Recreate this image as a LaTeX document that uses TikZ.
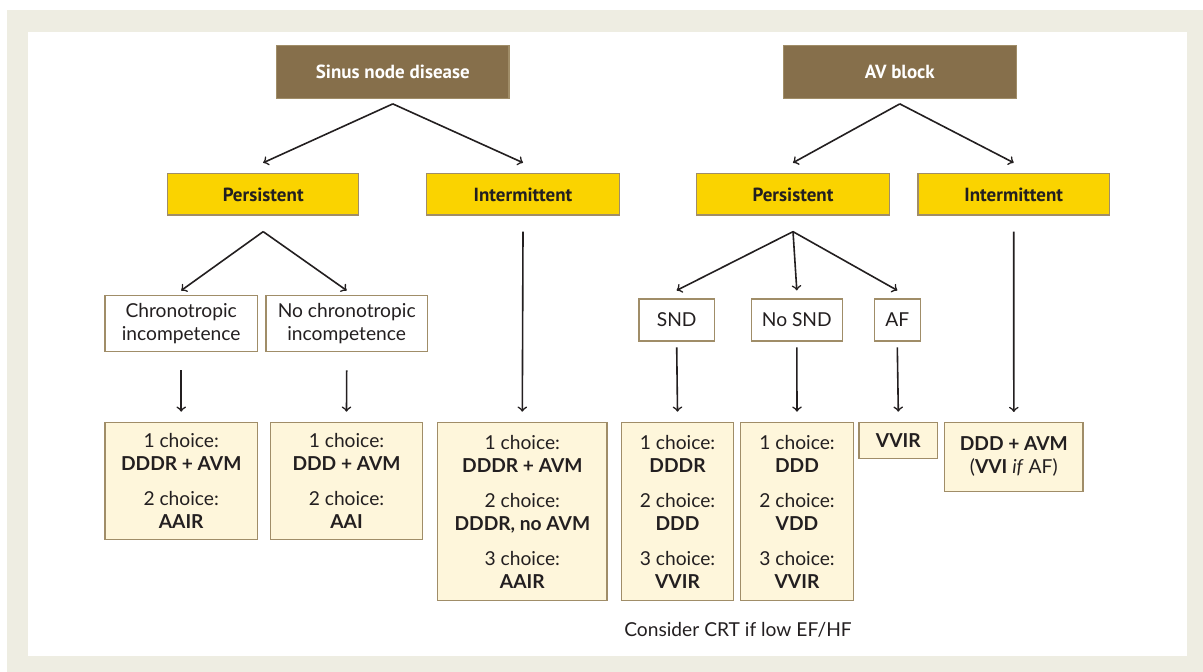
\documentclass[tikz,border=0pt]{standalone}
\usepackage{fontspec}
\setmainfont{Lato}
\newfontfamily\headfont{PT Sans}
\usetikzlibrary{shapes.geometric, arrows, positioning}

\definecolor{framebeige}{HTML}{EEEDE2}
\definecolor{diseasebrown}{HTML}{866F4B}
\definecolor{courseyellow}{HTML}{FAD300}
\definecolor{choicecream}{HTML}{FEF6DB}
\definecolor{boxline}{HTML}{A08D68}
\definecolor{darktext}{HTML}{231F20}

\tikzstyle{disease} = [rectangle, minimum height=26.3pt, align=center, draw=boxline, line width=0.6pt, fill=diseasebrown, text=white, font=\headfont\fontsize{9.5}{11}\selectfont\bfseries]
\tikzstyle{course} = [rectangle, minimum height=20.65pt, align=center, draw=boxline, line width=0.6pt, fill=courseyellow, text=darktext, font=\headfont\fontsize{9.5}{11}\selectfont\bfseries]
\tikzstyle{finding} = [rectangle, inner sep=2pt, align=center, draw=boxline, line width=0.6pt, fill=white, text=darktext, font=\fontsize{9.6}{11.5}\selectfont]
\tikzstyle{choice} = [rectangle, anchor=north, inner sep=2pt, align=center, draw=boxline, line width=0.6pt, fill=choicecream, text=darktext, font=\fontsize{9.6}{11.5}\selectfont]
\tikzstyle{arrow} = [line width=0.8pt, draw=darktext, ->, >=to]

\begin{document}
\begin{tikzpicture}[x=0.5pt, y=-0.5pt]
% frame
\useasboundingbox (0,0) rectangle (1203,672);
\fill[framebeige] (7,10) rectangle (1203,672);
\fill[white] (28,32) rectangle (1187,656);

% sinus node disease branch
\node (sinus) [disease, minimum width=116.2pt] at (392.8,72) {Sinus node disease};
\node (pers1) [course, minimum width=95.5pt] at (263.2,194.4) {Persistent};
\node (int1) [course, minimum width=96.3pt] at (523,194.4) {Intermittent};

\node (chrono) [finding, minimum width=76.15pt, minimum height=28pt] at (181.2,323.7) {Chronotropic\\incompetence};
\node (nochrono) [finding, minimum width=80.65pt, minimum height=28pt] at (346.7,323.7) {No chronotropic\\incompetence};

\node (res1) [choice, minimum width=76.15pt, minimum height=58.65pt] at (181.2,421.7) {1 choice:\\\textbf{DDDR + AVM}\\[6pt]2 choice:\\\textbf{AAIR}};
\node (res2) [choice, minimum width=76.2pt, minimum height=58.65pt] at (346.5,421.7) {1 choice:\\\textbf{DDD + AVM}\\[6pt]2 choice:\\\textbf{AAI}};
\node (res3) [choice, minimum width=84.65pt, minimum height=89.15pt] at (522.3,421.7) {1 choice:\\\textbf{DDDR + AVM}\\[6pt]2 choice:\\\textbf{DDDR, no AVM}\\[6pt]3 choice:\\\textbf{AAIR}};

\draw [arrow] ([yshift=-2.5pt]sinus.south) -- ([yshift=5.2pt]pers1.north);
\draw [arrow] ([yshift=-2.5pt]sinus.south) -- ([yshift=5.2pt]int1.north);
\draw [arrow] ([yshift=-8pt]pers1.south) -- ([yshift=2.3pt]chrono.north);
\draw [arrow] ([yshift=-8pt]pers1.south) -- ([yshift=2.3pt]nochrono.north);
\draw [arrow] ([yshift=-9pt]chrono.south) -- ([yshift=5pt]res1.north);
\draw [arrow] ([yshift=-9pt]nochrono.south) -- ([yshift=5pt]res2.north);
\draw [arrow] ([yshift=-8pt]int1.south) -- ([yshift=5pt]res3.north);

% AV block branch
\node (av) [disease, minimum width=116.5pt] at (899.8,72) {AV block};
\node (pers2) [course, minimum width=96.3pt] at (793,194.4) {Persistent};
\node (int2) [course, minimum width=95.7pt] at (1013.7,194.4) {Intermittent};

\node (snd) [finding, minimum width=37.65pt, minimum height=21pt] at (676.7,320) {SND};
\node (nosnd) [finding, minimum width=45.5pt, minimum height=21pt] at (796.8,320) {No SND};
\node (af) [finding, minimum width=23pt, minimum height=21pt] at (897.3,320) {AF};

\node (res4) [choice, minimum width=55.8pt, minimum height=89pt] at (677.5,422) {1 choice:\\\textbf{DDDR}\\[6pt]2 choice:\\\textbf{DDD}\\[6pt]3 choice:\\\textbf{VVIR}};
\node (res5) [choice, minimum width=56.7pt, minimum height=89pt] at (797,422) {1 choice:\\\textbf{DDD}\\[6pt]2 choice:\\\textbf{VDD}\\[6pt]3 choice:\\\textbf{VVIR}};
\node (res6) [choice, minimum width=39.35pt, minimum height=18.15pt] at (898.3,422) {\textbf{VVIR}};
\node (res7) [choice, minimum width=69.15pt, minimum height=34.35pt] at (1013.8,422) {\textbf{DDD + AVM}\\(\textbf{VVI} \textit{if} AF)};

\node (crt) [text=darktext, font=\fontsize{9.6}{11.5}\selectfont] at (738,630) {Consider CRT if low EF/HF};

\draw [arrow] ([yshift=-2.5pt]av.south) -- ([yshift=5.2pt]pers2.north);
\draw [arrow] ([yshift=-2.5pt]av.south) -- ([yshift=5.2pt]int2.north);
\draw [arrow] ([yshift=-8pt]pers2.south) -- ([yshift=4pt]snd.north);
\draw [arrow] ([yshift=-8pt]pers2.south) -- ([yshift=4pt]nosnd.north);
\draw [arrow] ([yshift=-8pt]pers2.south) -- ([yshift=4pt]af.north);
\draw [arrow] ([yshift=-2.85pt]snd.south) -- ([yshift=5.15pt]res4.north);
\draw [arrow] ([yshift=-2.85pt]nosnd.south) -- ([yshift=5.15pt]res5.north);
\draw [arrow] ([yshift=-2.85pt]af.south) -- ([yshift=5.15pt]res6.north);
\draw [arrow] ([yshift=-8pt]int2.south) -- ([yshift=5pt]res7.north);

\end{tikzpicture}
\end{document}
